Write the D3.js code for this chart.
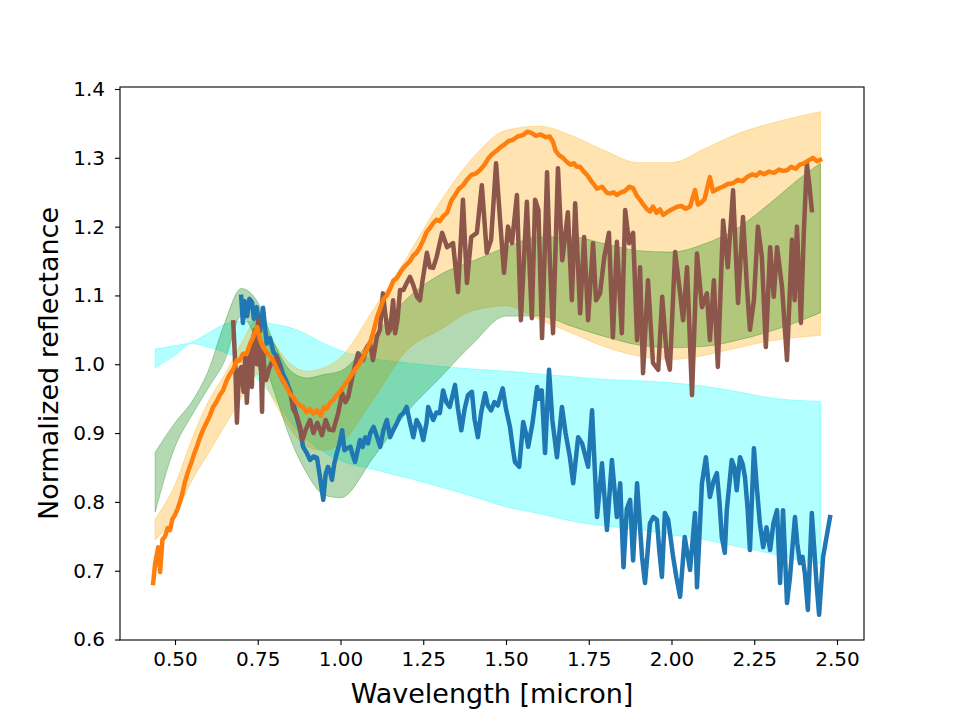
<!DOCTYPE html>
<html>
<head>
<meta charset="utf-8">
<script src="https://cdn.jsdelivr.net/npm/d3@7"></script>
<style>
  body { margin: 0; background: #fff; }
  svg { font-family: "DejaVu Sans", sans-serif; }
</style>
</head>
<body>
<svg id="chart" width="960" height="720"></svg>
<script>
// band grid (micron) shared by the three shaded envelopes
var bandWl = [0.44, 0.50, 0.55, 0.60, 0.65, 0.70, 0.75, 0.80, 0.85, 0.90, 0.95, 1.00, 1.10, 1.20, 1.30, 1.40, 1.50, 1.60, 1.70, 1.80, 1.90, 2.00, 2.10, 2.20, 2.30, 2.40, 2.45];

var cyanLow  = [0.995, 1.013, 1.030, 1.025, 1.017, 1.005, 0.978, 0.950, 0.915, 0.890, 0.872, 0.860, 0.847, 0.835, 0.822, 0.808, 0.793, 0.783, 0.772, 0.765, 0.760, 0.752, 0.745, 0.735, 0.725, 0.714, 0.710];
var cyanHigh = [1.022, 1.027, 1.032, 1.045, 1.058, 1.062, 1.062, 1.058, 1.053, 1.043, 1.030, 1.020, 1.008, 1.002, 0.997, 0.993, 0.990, 0.986, 0.982, 0.978, 0.976, 0.973, 0.968, 0.960, 0.951, 0.947, 0.946];

var orangeLow  = [0.745, 0.780, 0.830, 0.870, 0.910, 0.950, 0.985, 0.945, 0.905, 0.880, 0.875, 0.885, 0.950, 1.020, 1.050, 1.078, 1.085, 1.065, 1.045, 1.025, 1.012, 1.007, 1.013, 1.024, 1.034, 1.040, 1.042];
var orangeHigh = [0.775, 0.825, 0.890, 0.945, 0.985, 1.030, 1.065, 1.030, 1.000, 0.990, 0.995, 1.010, 1.080, 1.155, 1.235, 1.300, 1.340, 1.346, 1.332, 1.310, 1.293, 1.293, 1.313, 1.335, 1.350, 1.362, 1.367];

var greenLow  = [0.785, 0.880, 0.925, 0.965, 1.005, 1.070, 1.030, 0.960, 0.890, 0.840, 0.810, 0.806, 0.865, 0.930, 0.980, 1.030, 1.070, 1.070, 1.055, 1.040, 1.028, 1.024, 1.026, 1.035, 1.048, 1.065, 1.075];
var greenHigh = [0.872, 0.915, 0.945, 0.990, 1.060, 1.110, 1.090, 1.030, 0.990, 0.980, 0.985, 0.990, 1.040, 1.095, 1.130, 1.150, 1.170, 1.185, 1.185, 1.175, 1.165, 1.163, 1.175, 1.198, 1.235, 1.275, 1.292];

// spectra [wavelength, reflectance]
var blueSpec = [[0.700,1.098],[0.705,1.060],[0.710,1.092],[0.718,1.070],[0.725,1.095],[0.733,1.090],[0.738,1.066],[0.747,1.083],[0.757,1.048],[0.766,1.082],[0.777,1.030],[0.787,1.038],[0.797,1.018],[0.807,1.012],[0.817,1.000],[0.827,0.985],[0.837,0.975],[0.847,0.962],[0.857,0.945],[0.867,0.925],[0.878,0.904],[0.887,0.880],[0.897,0.872],[0.908,0.861],[0.918,0.866],[0.929,0.864],[0.938,0.836],[0.948,0.803],[0.955,0.840],[0.962,0.851],[0.968,0.845],[0.974,0.832],[0.981,0.855],[0.989,0.871],[0.997,0.885],[1.005,0.904],[1.012,0.875],[1.020,0.878],[1.030,0.880],[1.037,0.868],[1.044,0.858],[1.052,0.875],[1.059,0.890],[1.067,0.880],[1.075,0.894],[1.083,0.885],[1.090,0.900],[1.100,0.909],[1.110,0.895],[1.120,0.880],[1.130,0.905],[1.140,0.919],[1.150,0.894],[1.160,0.905],[1.170,0.914],[1.180,0.925],[1.190,0.929],[1.200,0.938],[1.210,0.915],[1.220,0.894],[1.230,0.919],[1.240,0.910],[1.250,0.890],[1.260,0.915],[1.265,0.938],[1.275,0.925],[1.280,0.919],[1.290,0.930],[1.300,0.929],[1.310,0.962],[1.320,0.945],[1.330,0.938],[1.346,0.970],[1.355,0.935],[1.365,0.904],[1.375,0.935],[1.385,0.955],[1.397,0.960],[1.405,0.920],[1.415,0.894],[1.425,0.930],[1.437,0.958],[1.445,0.940],[1.455,0.933],[1.465,0.945],[1.475,0.940],[1.490,0.965],[1.500,0.935],[1.512,0.909],[1.520,0.880],[1.527,0.858],[1.540,0.851],[1.552,0.916],[1.560,0.900],[1.567,0.880],[1.580,0.914],[1.594,0.967],[1.600,0.950],[1.608,0.962],[1.618,0.871],[1.630,0.992],[1.640,0.919],[1.654,0.865],[1.669,0.938],[1.680,0.900],[1.693,0.865],[1.703,0.827],[1.718,0.894],[1.730,0.885],[1.748,0.851],[1.760,0.933],[1.775,0.778],[1.790,0.856],[1.805,0.759],[1.820,0.861],[1.835,0.778],[1.845,0.827],[1.855,0.705],[1.865,0.790],[1.875,0.803],[1.884,0.715],[1.896,0.827],[1.911,0.720],[1.920,0.682],[1.935,0.769],[1.945,0.778],[1.956,0.774],[1.963,0.730],[1.971,0.691],[1.980,0.784],[1.990,0.774],[2.005,0.720],[2.015,0.690],[2.026,0.662],[2.040,0.749],[2.056,0.701],[2.071,0.784],[2.077,0.676],[2.092,0.827],[2.104,0.865],[2.116,0.807],[2.127,0.830],[2.137,0.842],[2.145,0.800],[2.152,0.749],[2.161,0.726],[2.167,0.788],[2.182,0.861],[2.190,0.850],[2.197,0.817],[2.207,0.865],[2.215,0.855],[2.222,0.836],[2.230,0.790],[2.237,0.730],[2.249,0.878],[2.258,0.820],[2.267,0.769],[2.277,0.734],[2.287,0.763],[2.298,0.730],[2.308,0.769],[2.319,0.788],[2.328,0.682],[2.337,0.788],[2.349,0.653],[2.358,0.691],[2.373,0.778],[2.380,0.740],[2.388,0.711],[2.396,0.720],[2.403,0.696],[2.412,0.643],[2.424,0.784],[2.439,0.676],[2.446,0.636],[2.458,0.720],[2.479,0.778]];

var brownSpec = [[0.676,1.061],[0.682,1.000],[0.687,0.915],[0.693,0.990],[0.700,0.996],[0.707,0.960],[0.712,1.010],[0.717,0.944],[0.722,0.990],[0.727,1.021],[0.732,0.967],[0.737,1.040],[0.742,1.050],[0.747,1.000],[0.751,1.064],[0.756,1.002],[0.760,0.990],[0.763,0.931],[0.766,1.025],[0.770,0.990],[0.775,0.977],[0.785,0.995],[0.795,1.005],[0.808,1.010],[0.818,0.985],[0.827,0.975],[0.837,0.968],[0.847,0.962],[0.857,0.935],[0.868,0.925],[0.878,0.909],[0.885,0.890],[0.895,0.905],[0.908,0.919],[0.918,0.900],[0.930,0.915],[0.944,0.897],[0.955,0.919],[0.966,0.905],[0.978,0.904],[0.993,0.929],[1.005,0.958],[1.015,0.945],[1.023,0.952],[1.038,0.987],[1.053,1.016],[1.068,1.006],[1.080,1.025],[1.089,1.031],[1.098,1.006],[1.110,1.040],[1.119,1.050],[1.128,1.103],[1.135,1.074],[1.143,1.045],[1.150,1.050],[1.159,1.093],[1.165,1.045],[1.172,1.064],[1.180,1.108],[1.190,1.108],[1.200,1.118],[1.210,1.127],[1.220,1.115],[1.231,1.098],[1.240,1.093],[1.248,1.122],[1.261,1.162],[1.270,1.141],[1.280,1.140],[1.290,1.155],[1.307,1.191],[1.322,1.170],[1.340,1.176],[1.355,1.105],[1.370,1.239],[1.382,1.118],[1.395,1.185],[1.412,1.191],[1.427,1.260],[1.442,1.162],[1.455,1.181],[1.470,1.292],[1.482,1.210],[1.494,1.133],[1.506,1.200],[1.518,1.176],[1.533,1.246],[1.545,1.064],[1.563,1.236],[1.578,1.067],[1.588,1.239],[1.598,1.224],[1.609,1.038],[1.624,1.279],[1.632,1.156],[1.642,1.045],[1.657,1.285],[1.670,1.151],[1.687,1.221],[1.699,1.093],[1.709,1.234],[1.724,1.074],[1.736,1.185],[1.748,1.064],[1.763,1.176],[1.772,1.093],[1.784,1.103],[1.797,1.156],[1.811,1.191],[1.823,1.039],[1.835,1.178],[1.850,1.045],[1.860,1.224],[1.872,1.176],[1.884,1.191],[1.896,1.035],[1.905,1.141],[1.914,0.987],[1.929,1.122],[1.944,1.002],[1.960,0.992],[1.972,1.098],[1.986,1.010],[1.995,0.992],[2.011,1.163],[2.026,1.103],[2.035,1.064],[2.047,1.141],[2.062,0.955],[2.077,1.161],[2.092,1.083],[2.107,1.103],[2.116,1.035],[2.128,1.122],[2.140,0.996],[2.156,1.209],[2.170,1.141],[2.186,1.253],[2.201,1.089],[2.216,1.214],[2.228,1.112],[2.237,1.050],[2.249,1.093],[2.261,1.200],[2.273,1.156],[2.285,1.025],[2.298,1.170],[2.309,1.098],[2.319,1.170],[2.334,1.112],[2.349,1.006],[2.364,1.181],[2.372,1.093],[2.379,1.200],[2.391,1.060],[2.400,1.195],[2.409,1.292],[2.417,1.258],[2.424,1.224]];

var orangeSpec = [[0.434,0.682],[0.440,0.711],[0.449,0.734],[0.455,0.698],[0.462,0.745],[0.470,0.750],[0.478,0.762],[0.485,0.759],[0.492,0.775],[0.500,0.781],[0.508,0.790],[0.515,0.800],[0.522,0.812],[0.530,0.829],[0.540,0.845],[0.550,0.858],[0.558,0.870],[0.566,0.880],[0.575,0.893],[0.585,0.905],[0.595,0.915],[0.605,0.925],[0.615,0.938],[0.625,0.945],[0.635,0.955],[0.645,0.962],[0.655,0.975],[0.665,0.985],[0.675,0.992],[0.687,1.006],[0.695,1.005],[0.705,1.015],[0.717,1.016],[0.727,1.030],[0.737,1.040],[0.748,1.054],[0.757,1.035],[0.766,1.025],[0.776,1.018],[0.786,1.012],[0.796,1.006],[0.806,0.995],[0.816,0.985],[0.826,0.977],[0.836,0.968],[0.846,0.958],[0.857,0.952],[0.867,0.945],[0.877,0.940],[0.887,0.938],[0.897,0.930],[0.908,0.935],[0.918,0.928],[0.929,0.933],[0.940,0.925],[0.950,0.938],[0.958,0.935],[0.968,0.944],[0.978,0.948],[0.988,0.955],[0.998,0.960],[1.008,0.967],[1.020,0.975],[1.030,0.982],[1.040,0.990],[1.050,0.996],[1.059,1.002],[1.070,1.012],[1.080,1.022],[1.089,1.031],[1.100,1.048],[1.110,1.068],[1.119,1.080],[1.130,1.095],[1.140,1.100],[1.150,1.110],[1.160,1.122],[1.170,1.125],[1.180,1.133],[1.190,1.140],[1.200,1.145],[1.210,1.150],[1.220,1.158],[1.230,1.162],[1.240,1.170],[1.250,1.180],[1.260,1.192],[1.270,1.198],[1.280,1.205],[1.290,1.210],[1.300,1.208],[1.310,1.215],[1.322,1.220],[1.335,1.238],[1.345,1.245],[1.358,1.255],[1.370,1.260],[1.382,1.268],[1.395,1.275],[1.408,1.277],[1.421,1.282],[1.435,1.290],[1.448,1.300],[1.460,1.306],[1.473,1.311],[1.485,1.316],[1.497,1.320],[1.510,1.325],[1.521,1.326],[1.535,1.331],[1.551,1.333],[1.565,1.338],[1.578,1.336],[1.590,1.332],[1.605,1.334],[1.620,1.330],[1.632,1.331],[1.642,1.323],[1.650,1.310],[1.660,1.304],[1.672,1.300],[1.684,1.294],[1.695,1.290],[1.705,1.292],[1.714,1.287],[1.724,1.287],[1.735,1.280],[1.745,1.275],[1.755,1.268],[1.763,1.263],[1.775,1.255],[1.790,1.258],[1.805,1.249],[1.815,1.248],[1.825,1.250],[1.835,1.246],[1.845,1.249],[1.860,1.252],[1.872,1.258],[1.884,1.256],[1.895,1.245],[1.905,1.239],[1.915,1.232],[1.925,1.226],[1.935,1.222],[1.944,1.229],[1.955,1.220],[1.965,1.225],[1.975,1.217],[1.990,1.222],[2.005,1.226],[2.017,1.229],[2.030,1.230],[2.043,1.226],[2.056,1.229],[2.071,1.253],[2.080,1.232],[2.090,1.235],[2.100,1.240],[2.116,1.272],[2.125,1.251],[2.140,1.255],[2.155,1.258],[2.170,1.262],[2.186,1.263],[2.200,1.268],[2.215,1.266],[2.228,1.272],[2.245,1.276],[2.256,1.274],[2.267,1.279],[2.280,1.276],[2.295,1.280],[2.310,1.278],[2.325,1.283],[2.337,1.281],[2.349,1.282],[2.362,1.287],[2.375,1.284],[2.388,1.290],[2.400,1.292],[2.413,1.296],[2.427,1.300],[2.440,1.295],[2.449,1.297]];

var xTicks = [0.50, 0.75, 1.00, 1.25, 1.50, 1.75, 2.00, 2.25, 2.50];
var yTicks = [0.6, 0.7, 0.8, 0.9, 1.0, 1.1, 1.2, 1.3, 1.4];

var plotLeft = 120, plotRight = 864, plotTop = 87, plotBottom = 640;

var svg = d3.select("#chart");

var x = d3.scaleLinear().domain([0.3338, 2.5816]).range([plotLeft, plotRight]);
var y = d3.scaleLinear().domain([0.5993, 1.4029]).range([plotBottom, plotTop]);

function drawBand(lo, hi, color) {
    var rows = bandWl.map(function(w, i) { return [w, lo[i], hi[i]]; });
    var area = d3.area()
        .x(function(d) { return x(d[0]); })
        .y0(function(d) { return y(d[1]); })
        .y1(function(d) { return y(d[2]); })
        .curve(d3.curveMonotoneX);
    svg.append("path")
        .attr("d", area(rows))
        .attr("fill", color)
        .attr("fill-opacity", 0.3)
        .attr("stroke", color)
        .attr("stroke-opacity", 0.3)
        .attr("stroke-width", 1);
}

function drawSpec(data, color) {
    var line = d3.line()
        .x(function(d) { return x(d[0]); })
        .y(function(d) { return y(d[1]); });
    svg.append("path")
        .attr("d", line(data))
        .attr("fill", "none")
        .attr("stroke", color)
        .attr("stroke-width", 4.5)
        .attr("stroke-linejoin", "round")
        .attr("stroke-linecap", "square");
}

drawBand(cyanLow, cyanHigh, "#00ffff");
drawBand(orangeLow, orangeHigh, "#ffa500");
drawBand(greenLow, greenHigh, "#008000");

drawSpec(blueSpec, "#1f77b4");
drawSpec(brownSpec, "#8c564b");
drawSpec(orangeSpec, "#ff7f0e");

// axes
var xAxis = d3.axisBottom(x).tickValues(xTicks).tickFormat(d3.format(".2f")).tickSizeOuter(0).tickSize(5).tickPadding(7);
var yAxis = d3.axisLeft(y).tickValues(yTicks).tickFormat(d3.format(".1f")).tickSizeOuter(0).tickSize(5).tickPadding(10);

var gx = svg.append("g").attr("transform", "translate(0," + plotBottom + ")").call(xAxis);
var gy = svg.append("g").attr("transform", "translate(" + plotLeft + ",0)").call(yAxis);
[gx, gy].forEach(function(g) {
    g.select(".domain").remove();
    g.selectAll("line").attr("stroke", "#000").attr("stroke-width", 1.1);
    g.selectAll("text").attr("font-size", 20).attr("fill", "#000").attr("font-family", "DejaVu Sans");
});

svg.append("rect")
    .attr("x", plotLeft).attr("y", plotTop)
    .attr("width", plotRight - plotLeft).attr("height", plotBottom - plotTop)
    .attr("fill", "none").attr("stroke", "#000").attr("stroke-width", 1.1);

svg.append("text")
    .attr("x", (plotLeft + plotRight) / 2).attr("y", 703)
    .attr("text-anchor", "middle")
    .attr("font-size", 27)
    .text("Wavelength [micron]");

svg.append("text")
    .attr("transform", "translate(58," + (plotTop + plotBottom) / 2 + ") rotate(-90)")
    .attr("text-anchor", "middle")
    .attr("font-size", 27)
    .text("Normalized reflectance");
</script>
</body>
</html>
